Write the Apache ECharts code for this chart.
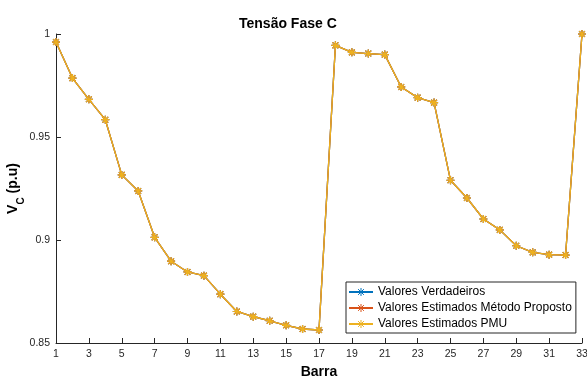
<!DOCTYPE html>
<html>
<head>
<meta charset="utf-8">
<script src="https://cdn.jsdelivr.net/npm/echarts@6/dist/echarts.min.js"></script>
<style>
html,body{margin:0;padding:0;background:#fff;}
#c{width:587px;height:376px;}
</style>
</head>
<body>
<div id="c"></div>
<script>
var barras = [1,2,3,4,5,6,7,8,9,10,11,12,13,14,15,16,17,18,19,20,21,22,23,24,25,26,27,28,29,30,31,32,33];
var verdadeiros = [0.9961,0.9786,0.9683,0.9584,0.9316,0.9238,0.9013,0.8897,0.8845,0.8827,0.8737,0.8653,0.8628,0.8608,0.8586,0.8568,0.8563,0.9945,0.9911,0.9905,0.9900,0.9743,0.9691,0.9667,0.9290,0.9204,0.9102,0.9049,0.8972,0.8940,0.8929,0.8927,1.0000];
var estimadosMetodo = [0.9961,0.9786,0.9683,0.9584,0.9316,0.9238,0.9013,0.8897,0.8845,0.8827,0.8737,0.8653,0.8628,0.8608,0.8586,0.8568,0.8563,0.9945,0.9911,0.9905,0.9900,0.9743,0.9691,0.9667,0.9290,0.9204,0.9102,0.9049,0.8972,0.8940,0.8929,0.8927,1.0000];
var estimadosPMU = [0.9961,0.9786,0.9683,0.9584,0.9316,0.9238,0.9013,0.8897,0.8845,0.8827,0.8737,0.8653,0.8628,0.8608,0.8586,0.8568,0.8563,0.9945,0.9911,0.9905,0.9900,0.9743,0.9691,0.9667,0.9290,0.9204,0.9102,0.9049,0.8972,0.8940,0.8929,0.8927,1.0000];
var seriesNames = ['Valores Verdadeiros','Valores Estimados Método Proposto','Valores Estimados PMU'];
var seriesColors = ['#0072BD','#D95319','#EDB120'];
var yTicks = [0.85, 0.9, 0.95, 1];

var star = 'path://M0,-5L0,5M-5,0L5,0M-3.6,-3.6L3.6,3.6M-3.6,3.6L3.6,-3.6';
function pairs(arr){ return barras.map(function(b,i){ return [b, arr[i]]; }); }
var allData = [verdadeiros, estimadosMetodo, estimadosPMU];

var chart = echarts.init(document.getElementById('c'), null, {renderer:'canvas'});
var axisCol = '#262626';
var ff = 'Liberation Sans, Arial, sans-serif';
chart.setOption({
  animation:false,
  backgroundColor:'#fff',
  title:{
    text:'Tensão Fase C', left:234, top:12,
    textStyle:{fontFamily:ff, fontSize:14, fontWeight:'bold', color:'#000'}
  },
  grid:{left:56, right:5, top:34, bottom:33, containLabel:false, outerBoundsMode:'none'},
  legend:{
    orient:'vertical', left:346, top:282,
    padding:[4,4,3,2], itemGap:4, itemWidth:24, itemHeight:10,
    backgroundColor:'#fff', borderColor:'#262626', borderWidth:1, borderRadius:0,
    textStyle:{fontFamily:ff, fontSize:12, color:'#000', lineHeight:12},
    data:seriesNames.map(function(n){ return {name:n, itemStyle:{borderWidth:1}}; })
  },
  xAxis:{
    type:'value', min:1, max:33, interval:2,
    name:'Barra', nameLocation:'middle', nameGap:22, nameMoveOverlap:false,
    nameTextStyle:{fontFamily:ff, fontSize:14, fontWeight:'bold', color:'#000'},
    axisLine:{show:true, lineStyle:{color:axisCol, width:1}},
    axisTick:{show:true, inside:true, length:5, lineStyle:{color:axisCol}},
    axisLabel:{fontFamily:ff, fontSize:10.5, color:axisCol, margin:6},
    splitLine:{show:false}
  },
  yAxis:{
    type:'value', min:0.85, max:1, interval:0.05,
    name:'{v|V}{s|C}{v| (p.u)}', nameLocation:'middle', nameGap:30, nameRotate:90, nameMoveOverlap:false,
    nameTextStyle:{
      rich:{
        v:{fontFamily:ff, fontSize:14, fontWeight:'bold', color:'#000', lineHeight:20, verticalAlign:'top'},
        s:{fontFamily:ff, fontSize:10, fontWeight:'bold', color:'#000', lineHeight:20, verticalAlign:'bottom'}
      }
    },
    axisLine:{show:true, onZero:false, lineStyle:{color:axisCol, width:1}},
    axisTick:{show:true, inside:true, length:5, lineStyle:{color:axisCol}},
    axisLabel:{fontFamily:ff, fontSize:10.5, color:axisCol, margin:6,
      formatter:function(v){ var t = yTicks.filter(function(x){return Math.abs(x-v)<1e-9;}); return t.length? String(t[0]) : ''; }},
    splitLine:{show:false}
  },
  series: seriesNames.map(function(n,i){
    return {
      name:n, type:'line', data:pairs(allData[i]),
      symbol:star, symbolSize:8, showSymbol:true,
      lineStyle:{color:seriesColors[i], width:1.3},
      itemStyle:{color:seriesColors[i], borderColor:seriesColors[i], borderWidth:1.2},
      z:2+i
    };
  })
});
</script>
</body>
</html>
